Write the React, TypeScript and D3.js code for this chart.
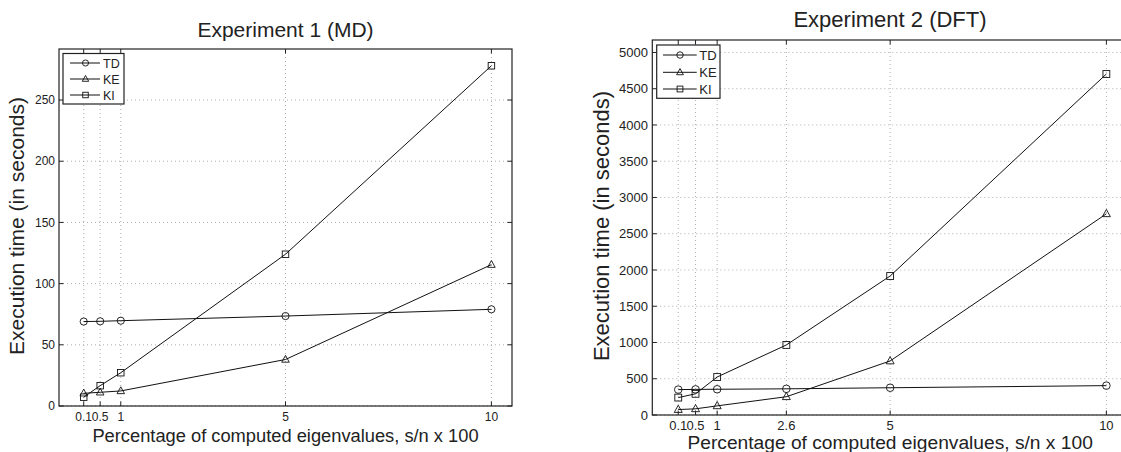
import React from "react";
import * as d3 from "d3";

// ---------- data ----------
const seriesNames = ["TD", "KE", "KI"];
const markerKinds = ["circle", "triangle", "square"];

const xExp1 = [0.1, 0.5, 1, 5, 10];
const tdExp1 = [69, 69.2, 69.7, 73.5, 79];
const keExp1 = [10.4, 11.2, 12.3, 38, 115.5];
const kiExp1 = [7.2, 16.6, 27.2, 124, 278];
const xTicksExp1 = [0.1, 0.5, 1, 5, 10];
const xTickLabelsExp1 = ["0.1", "0.5", "1", "5", "10"];
const yTicksExp1 = [0, 50, 100, 150, 200, 250];

const xExp2 = [0.1, 0.5, 1, 2.6, 5, 10];
const tdExp2 = [350, 353, 355, 361, 376, 405];
const keExp2 = [75, 85, 126, 252, 745, 2775];
const kiExp2 = [240, 292, 524, 966, 1917, 4703];
const xTicksExp2 = [0.1, 0.5, 1, 2.6, 5, 10];
const xTickLabelsExp2 = ["0.1", "0.5", "1", "2.6", "5", "10"];
const yTicksExp2 = [0, 500, 1000, 1500, 2000, 2500, 3000, 3500, 4000, 4500, 5000];

const titleExp1 = "Experiment 1 (MD)";
const titleExp2 = "Experiment 2 (DFT)";
const xLabel = "Percentage of computed eigenvalues, s/n x 100";
const yLabel = "Execution time (in seconds)";

// ---------- layout ----------
const FONT = "'Liberation Sans', Arial, Helvetica, sans-serif";

type Cfg = {
  x0: number; x1: number; y0: number; y1: number;
  xDomain: [number, number]; yDomain: [number, number];
  xs: number[]; series: number[][];
  xTicks: number[]; xTickLabels: string[]; yTicks: number[];
  title: string; titleX: number; titleY: number; titleSize: number;
  xLabelY: number; xLabelSize: number;
  yLabelX: number; yLabelY: number; yLabelSize: number;
  tickSize: number; xTickLabelY: number; yTickLabelX: number;
  leg: { x0: number; x1: number; y0: number; y1: number; rows: number[]; lx0: number; lx1: number; mx: number; tx: number; size: number };
  mr: number;
};

function Marker({ kind, x, y, r }: { kind: string; x: number; y: number; r: number }) {
  const common = { fill: "none", stroke: "#111", strokeWidth: 0.9 };
  if (kind === "circle") return <circle cx={x} cy={y} r={r} {...common} />;
  if (kind === "square") return <rect x={x - r * 0.9} y={y - r * 0.9} width={r * 1.8} height={r * 1.8} {...common} />;
  const h = r * 1.15;
  return <path d={`M${x},${y - h}L${x + r * 1.05},${y + r * 0.75}L${x - r * 1.05},${y + r * 0.75}Z`} {...common} />;
}

function Chart({ c }: { c: Cfg }) {
  const xs = d3.scaleLinear().domain(c.xDomain).range([c.x0, c.x1]);
  const ys = d3.scaleLinear().domain(c.yDomain).range([c.y1, c.y0]);
  const line = d3.line<[number, number]>().x((d) => xs(d[0])).y((d) => ys(d[1]));
  const tl = 4.5;
  return (
    <g>
      {/* grid */}
      {c.xTicks.map((t, i) => (
        <line key={"gx" + i} x1={xs(t)} x2={xs(t)} y1={c.y0} y2={c.y1} stroke="#999" strokeWidth={0.8} strokeDasharray="1,3" />
      ))}
      {c.yTicks.map((t, i) => (
        <line key={"gy" + i} x1={c.x0} x2={c.x1} y1={ys(t)} y2={ys(t)} stroke="#999" strokeWidth={0.8} strokeDasharray="1,3" />
      ))}
      {/* series */}
      {c.series.map((s, si) => (
        <g key={"s" + si}>
          <path d={line(c.xs.map((x, i) => [x, s[i]] as [number, number])) || ""} fill="none" stroke="#111" strokeWidth={1} />
          {c.xs.map((x, i) => (
            <Marker key={i} kind={markerKinds[si]} x={xs(x)} y={ys(s[i])} r={c.mr} />
          ))}
        </g>
      ))}
      {/* box */}
      <rect x={c.x0} y={c.y0} width={c.x1 - c.x0} height={c.y1 - c.y0} fill="none" stroke="#222" strokeWidth={1.2} />
      {/* ticks */}
      {c.xTicks.map((t, i) => (
        <g key={"tx" + i}>
          <line x1={xs(t)} x2={xs(t)} y1={c.y1} y2={c.y1 - tl} stroke="#222" />
          <line x1={xs(t)} x2={xs(t)} y1={c.y0} y2={c.y0 + tl} stroke="#222" />
          <text x={xs(t)} y={c.xTickLabelY} textAnchor="middle" fontSize={c.tickSize} fill="#222">{c.xTickLabels[i]}</text>
        </g>
      ))}
      {c.yTicks.map((t, i) => (
        <g key={"ty" + i}>
          <line x1={c.x0} x2={c.x0 + tl} y1={ys(t)} y2={ys(t)} stroke="#222" />
          <line x1={c.x1} x2={c.x1 - tl} y1={ys(t)} y2={ys(t)} stroke="#222" />
          <text x={c.yTickLabelX} y={ys(t)} dy="0.35em" textAnchor="end" fontSize={c.tickSize} fill="#222">{t}</text>
        </g>
      ))}
      {/* labels */}
      <text x={c.titleX} y={c.titleY} textAnchor="middle" fontSize={c.titleSize} fill="#222">{c.title}</text>
      <text x={(c.x0 + c.x1) / 2} y={c.xLabelY} textAnchor="middle" fontSize={c.xLabelSize} fill="#222">{xLabel}</text>
      <text transform={`translate(${c.yLabelX},${c.yLabelY}) rotate(-90)`} textAnchor="middle" fontSize={c.yLabelSize} fill="#222">{yLabel}</text>
      {/* legend */}
      <rect x={c.leg.x0} y={c.leg.y0} width={c.leg.x1 - c.leg.x0} height={c.leg.y1 - c.leg.y0} fill="#fff" stroke="#222" strokeWidth={1.2} />
      {seriesNames.map((n, i) => (
        <g key={"l" + i}>
          <line x1={c.leg.lx0} x2={c.leg.lx1} y1={c.leg.rows[i]} y2={c.leg.rows[i]} stroke="#111" />
          <Marker kind={markerKinds[i]} x={c.leg.mx} y={c.leg.rows[i]} r={c.mr * 0.85} />
          <text x={c.leg.tx} y={c.leg.rows[i]} dy="0.36em" fontSize={c.leg.size} fill="#222">{n}</text>
        </g>
      ))}
    </g>
  );
}

const cfg1: Cfg = {
  x0: 59, x1: 512, y0: 49, y1: 406,
  xDomain: [-0.5, 10.5], yDomain: [0, 291.7],
  xs: xExp1, series: [tdExp1, keExp1, kiExp1],
  xTicks: xTicksExp1, xTickLabels: xTickLabelsExp1, yTicks: yTicksExp1,
  title: titleExp1, titleX: 285.5, titleY: 37, titleSize: 21,
  xLabelY: 441.5, xLabelSize: 18.3,
  yLabelX: 24, yLabelY: 226, yLabelSize: 21,
  tickSize: 12, xTickLabelY: 420.5, yTickLabelX: 55,
  leg: { x0: 63, x1: 124, y0: 53.5, y1: 104, rows: [63, 79, 95], lx0: 70, lx1: 100, mx: 85.5, tx: 103, size: 12.5 },
  mr: 3.6,
};

const cfg2: Cfg = {
  x0: 652.3, x1: 1128, y0: 40, y1: 415,
  xDomain: [-0.5, 10.5], yDomain: [0, 5172],
  xs: xExp2, series: [tdExp2, keExp2, kiExp2],
  xTicks: xTicksExp2, xTickLabels: xTickLabelsExp2, yTicks: yTicksExp2,
  title: titleExp2, titleX: 890, titleY: 27, titleSize: 22,
  xLabelY: 449, xLabelSize: 19.2,
  yLabelX: 609, yLabelY: 226, yLabelSize: 22,
  tickSize: 13, xTickLabelY: 429.5, yTickLabelX: 648,
  leg: { x0: 656.7, x1: 720, y0: 45, y1: 98.3, rows: [55, 72.3, 89], lx0: 663, lx1: 696.7, mx: 680, tx: 699.3, size: 13 },
  mr: 3.8,
};

export default function App() {
  return (
    <svg width={1121} height={452} style={{ position: "absolute", left: 0, top: 0, fontFamily: FONT, background: "#fff" }}>
      <rect width={1121} height={452} fill="#fff" />
      <Chart c={cfg1} />
      <Chart c={cfg2} />
    </svg>
  );
}
